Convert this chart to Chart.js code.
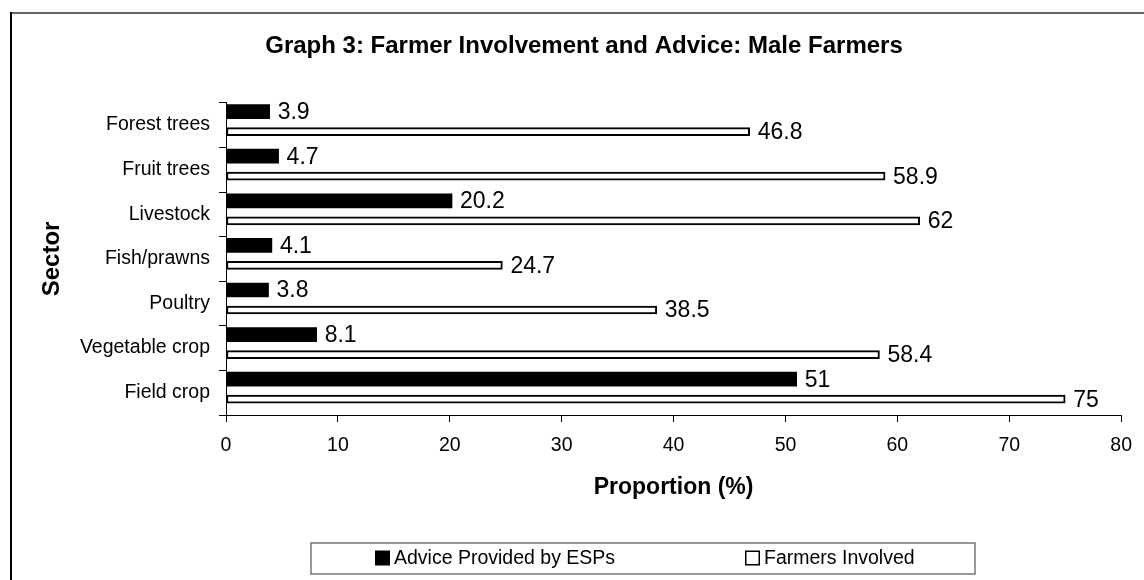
<!DOCTYPE html>
<html>
<head>
<meta charset="utf-8">
<title>Farmer Involvement and Advice: Male Farmers</title>
<script src="https://cdn.jsdelivr.net/npm/chart.js@4.4.1/dist/chart.umd.min.js"></script>
<style>
  html, body { margin: 0; padding: 0; background: #fff; }
  canvas { display: block; }
</style>
</head>
<body>
<canvas id="chart" width="1144" height="580"></canvas>
<script>
// sectors, top to bottom
const sectors = ['Forest trees', 'Fruit trees', 'Livestock', 'Fish/prawns', 'Poultry', 'Vegetable crop', 'Field crop'];
// proportion (%) per sector
const adviceByESPs = [3.9, 4.7, 20.2, 4.1, 3.8, 8.1, 51];
const farmersInvolved = [46.8, 58.9, 62, 24.7, 38.5, 58.4, 75];
const proportionTicks = [0, 10, 20, 30, 40, 50, 60, 70, 80];

const FONT = "'Liberation Sans', Arial, sans-serif";

// white page + the chart frame (top and left edges)
const framePlugin = {
    id: 'frame',
    beforeDraw(chart) {
        const ctx = chart.ctx;
        ctx.save();
        ctx.fillStyle = '#fff';
        ctx.fillRect(0, 0, chart.width, chart.height);
        ctx.fillStyle = '#666';
        ctx.fillRect(10, 12, chart.width, 2);
        ctx.fillStyle = '#000';
        ctx.fillRect(10, 12, 2, chart.height);
        ctx.restore();
    }
};

// value printed just past the end of each bar
const valueLabels = {
    id: 'valueLabels',
    afterDatasetsDraw(chart) {
        const ctx = chart.ctx;
        ctx.save();
        ctx.font = '23px ' + FONT;
        ctx.fillStyle = '#000';
        ctx.textAlign = 'left';
        ctx.textBaseline = 'middle';
        chart.data.datasets.forEach((ds, i) => {
            chart.getDatasetMeta(i).data.forEach((bar, j) => {
                ctx.fillText(String(ds.data[j]), bar.x + 8, bar.y + 1);
            });
        });
        ctx.restore();
    }
};

// boxed legend under the axis title
const boxLegend = {
    id: 'boxLegend',
    afterDraw(chart, args, opts) {
        const ctx = chart.ctx;
        const b = opts.box;
        ctx.save();
        ctx.strokeStyle = '#777';
        ctx.lineWidth = 1.5;
        ctx.strokeRect(b.x, b.y, b.w, b.h);
        ctx.font = '19.5px ' + FONT;
        ctx.textBaseline = 'middle';
        ctx.textAlign = 'left';
        const cy = b.y + b.h / 2;
        chart.data.datasets.forEach((ds, i) => {
            const x = b.x + opts.itemX[i];
            ctx.fillStyle = '#000';
            ctx.fillRect(x, cy - 8, 15, 15);
            if (ds.backgroundColor !== '#000') {
                ctx.fillStyle = ds.backgroundColor;
                ctx.fillRect(x + 1.5, cy - 6.5, 12, 12);
            }
            ctx.fillStyle = '#000';
            ctx.fillText(ds.label, x + 19, cy);
        });
        ctx.restore();
    }
};

new Chart(document.getElementById('chart'), {
    type: 'bar',
    data: {
        labels: sectors,
        datasets: [{
            label: 'Advice Provided by ESPs',
            data: adviceByESPs,
            backgroundColor: '#000',
            borderWidth: 0,
            // slot width vs. drawn width: keeps the pair sitting a bit high in each band
            barThickness: 27,
            maxBarThickness: 14
        }, {
            label: 'Farmers Involved',
            data: farmersInvolved,
            backgroundColor: '#fff',
            borderColor: '#000',
            borderWidth: 2,
            borderSkipped: false,
            barThickness: 13,
            maxBarThickness: 8
        }]
    },
    plugins: [framePlugin, valueLabels, boxLegend],
    options: {
        indexAxis: 'y',
        responsive: false,
        animation: false,
        devicePixelRatio: 1,
        layout: {
            padding: { left: 45, right: 21, top: 0, bottom: 79 }
        },
        scales: {
            x: {
                min: proportionTicks[0],
                max: proportionTicks[proportionTicks.length - 1],
                afterFit(scale) { scale.height = 86; },
                ticks: {
                    stepSize: proportionTicks[1] - proportionTicks[0],
                    color: '#000',
                    padding: 12,
                    font: { family: FONT, size: 19.5 }
                },
                grid: {
                    drawOnChartArea: false,
                    tickLength: 7,
                    color: '#000'
                },
                border: { color: '#000', width: 1 },
                title: {
                    display: true,
                    text: 'Proportion (%)',
                    color: '#000',
                    padding: { top: 0, bottom: 0 },
                    font: { family: FONT, size: 23, weight: 'bold' }
                }
            },
            y: {
                afterFit(scale) { scale.width = 181; },
                ticks: {
                    color: '#000',
                    padding: 9,
                    font: { family: FONT, size: 19.5 }
                },
                grid: {
                    drawOnChartArea: false,
                    tickLength: 7,
                    color: '#000'
                },
                border: { color: '#000', width: 1 },
                title: {
                    display: true,
                    text: 'Sector',
                    color: '#000',
                    padding: { top: -7, bottom: 0 },
                    font: { family: FONT, size: 24, weight: 'bold' }
                }
            }
        },
        plugins: {
            legend: { display: false },
            tooltip: { enabled: false },
            title: {
                display: true,
                text: 'Graph 3: Farmer Involvement and Advice: Male Farmers',
                color: '#000',
                padding: { top: 32, bottom: 42 },
                font: { family: FONT, size: 24, weight: 'bold' }
            },
            boxLegend: {
                box: { x: 311, y: 543, w: 664, h: 31 },
                itemX: [64, 434]
            }
        }
    }
});
</script>
</body>
</html>
